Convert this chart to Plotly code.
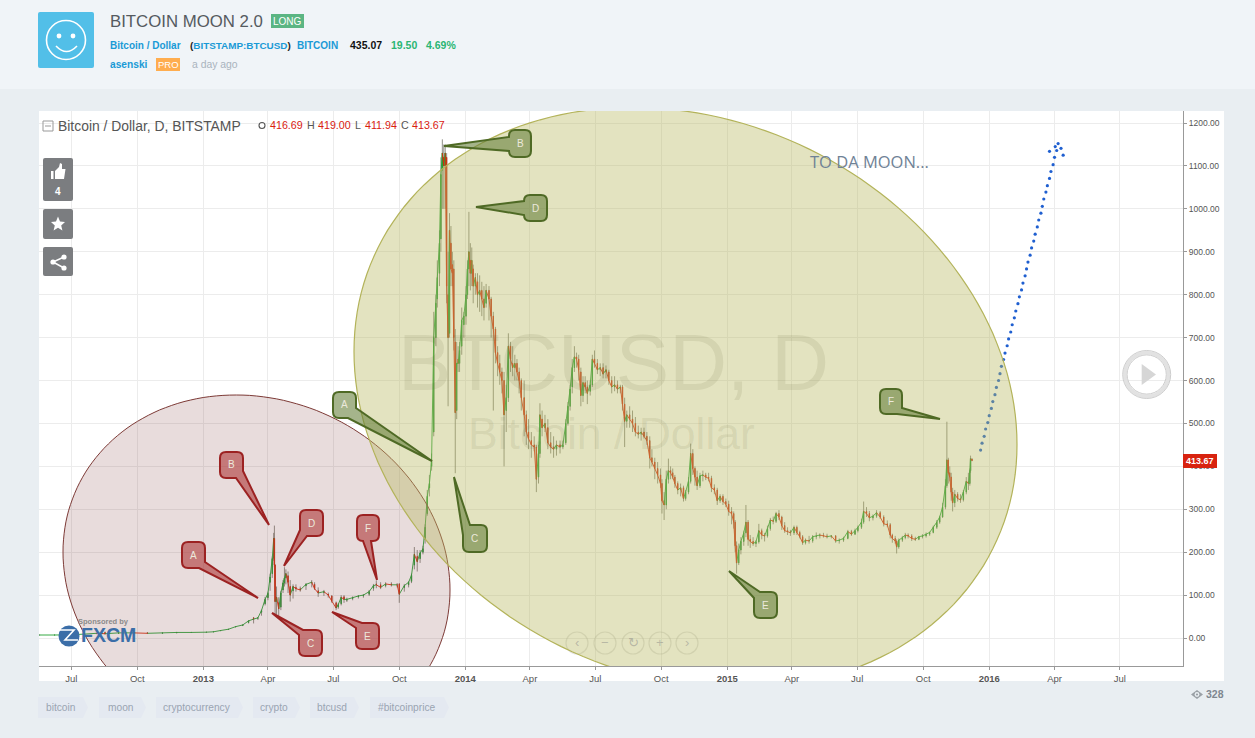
import math
import plotly.graph_objects as go

# ---------- data ----------
dates = (
    ["2012-" + d for d in "05-18 06-08 06-28 07-18 08-05 08-17 09-05 09-25 10-15 11-05 11-25 12-15".split()]
    + ["2013-" + d for d in "01-05 01-15 01-25 02-05 02-15 02-25 03-05 03-12 03-18 03-23 03-28 04-01 04-04 04-07 04-09 04-10 04-11 04-13 04-16 04-19 04-22 04-24 04-26 04-29".split()]
    + ["2013-" + d for d in "05-02 05-06 05-10 05-16 05-24 06-01 06-05 06-10 06-18 06-24 06-29 07-05 07-08 07-12 07-16 07-20 07-28 08-05 08-12 08-20 08-26 08-30 09-05 09-12 09-20 09-28 10-01 10-08 10-14 10-18 10-22 10-26 10-30 11-03 11-06 11-09 11-12 11-15".split()]
    + ["2013-" + d for d in "11-18 11-21 11-23 11-26 11-28 11-30 12-02 12-04 12-06 12-08 12-10 12-12 12-14 12-16 12-18 12-20 12-22 12-24 12-27 12-30".split()]
    + ["2014-" + d for d in "01-02 01-04 01-06 01-08 01-10 01-12 01-15 01-18 01-21 01-24 01-27 01-30".split()]
    + ["2014-" + d for d in "02-03 02-06 02-09 02-12 02-15 02-18 02-21 02-24 02-27 03-02 03-05 03-08 03-11 03-14 03-17 03-20 03-24 03-27 03-30 04-03 04-07 04-10 04-13 04-15 04-18 04-22 04-26 04-30 05-04 05-08 05-13 05-17 05-21 05-24 05-27 05-30 06-02 06-05 06-08 06-11 06-14 06-17 06-20 06-24 06-27 06-30 07-04 07-08 07-12 07-16 07-20 07-24 07-28 08-01 08-05 08-08 08-11 08-14 08-18 08-22 08-26 08-30 09-03 09-07 09-11 09-15 09-18 09-22 09-26 09-30".split()]
    + ["2014-" + d for d in "10-02 10-05 10-08 10-11 10-14 10-17 10-20 10-24 10-28 11-01 11-04 11-08 11-11 11-14 11-17 11-20 11-24 11-28 12-02 12-06 12-10 12-14 12-18 12-22 12-26 12-30".split()]
    + ["2015-" + d for d in "01-03 01-07 01-10 01-12 01-14 01-17 01-20 01-24 01-27 01-30 02-02 02-06 02-10 02-14 02-18 02-22 02-26 03-02 03-06 03-10 03-14 03-18 03-22 03-26 03-30 04-04 04-08 04-12 04-16 04-20 04-25 04-30 05-05 05-10 05-15 05-20 05-26 06-01 06-06 06-12 06-18 06-23 06-28 07-02 07-07 07-10 07-14 07-18 07-23 07-28 08-02 08-07 08-12 08-16 08-19 08-23 08-25 08-28 09-02 09-06 09-10 09-15 09-20 09-25 09-30 10-05 10-10 10-15 10-20 10-24 10-28 11-01 11-03 11-05 11-07 11-09 11-11 11-14 11-18 11-22 11-26 11-30 12-03 12-05 12-06 12-08".split()]
)
opens = [7,7,7,8,10,13,11,12,12,11,12,13,
    13.4,14.2,17,20,26,29,36,47,46,60,80,94,130,150,186,232,170,85,82,72,112,128,140,145,
    120,110,118,115,122,128,125,110,106,102,98,82,72,80,96,88,92,96,98,102,116,126,124,122,126,124,126,118,124,132,170,190,185,200,230,290,350,400,
    480,700,790,850,930,1090,1120,1100,1120,800,710,920,870,860,690,530,650,640,680,730,
    750,800,860,880,850,860,820,830,800,810,790,780,
    810,790,750,720,665,640,620,600,530,560,680,640,630,640,620,600,560,520,480,460,450,445,375,430,510,490,490,455,445,440,450,445,455,500,540,585,630,655,650,620,565,595,585,575,590,650,640,625,630,620,620,600,585,590,580,585,545,505,520,510,500,480,475,480,470,460,420,410,395,380,
    360,320,310,370,390,385,375,360,345,350,325,340,365,430,395,375,355,378,380,375,372,350,345,320,330,318,
    312,295,290,270,215,175,205,225,245,270,230,225,220,224,250,240,238,255,275,272,290,282,262,250,248,245,258,246,236,222,228,226,236,238,240,238,236,238,226,228,232,248,242,250,258,270,295,290,280,284,292,282,266,264,240,232,226,212,228,234,240,238,232,230,236,238,242,246,258,270,282,305,355,415,385,375,340,315,335,325,322,340,365,360,390,416.69]
highs = [7.5,7.5,7.5,9,11,15,12,13,13,12,13,14,
    13.8,14.8,18,21,27,31,41,49,48,66,96,108,150,190,245,262,172,120,95,110,135,165,160,155,
    135,125,125,120,128,135,130,118,112,106,100,85,82,100,100,94,97,100,102,112,126,134,130,130,130,128,128,126,132,150,212,205,205,215,265,345,380,430,
    760,800,880,950,1120,1162,1150,1150,1130,900,990,960,900,880,720,690,680,690,770,760,
    820,880,993,920,910,870,850,850,845,830,820,825,
    820,795,760,725,680,660,630,620,590,710,690,680,660,650,630,605,600,530,510,480,470,450,450,547,530,520,510,480,470,460,460,460,510,550,590,650,680,665,660,630,610,610,600,600,660,670,650,640,640,635,625,610,610,600,590,590,560,530,540,530,515,495,490,490,480,470,440,420,410,395,
    370,340,390,418,400,395,380,365,360,355,345,375,453,440,400,390,385,390,385,385,378,358,350,335,335,325,
    320,305,295,275,225,220,235,250,310,275,240,235,228,266,255,245,262,280,283,294,298,285,270,258,252,262,262,250,240,232,238,240,246,244,245,243,240,240,232,236,252,252,255,262,278,318,305,296,288,298,296,286,274,268,243,238,230,232,238,245,244,242,236,238,242,246,248,262,275,285,315,370,504,420,400,385,350,345,340,335,345,375,385,395,425,419]
lows = [6.5,6.5,6.5,7.5,9.5,8,10,11,11,10,11,13,
    13.1,14,16,19,25,28,34,34,42,52,76,88,110,140,180,165,55,55,50,65,105,120,125,105,
    85,92,108,108,112,118,112,96,98,94,82,65,68,76,82,84,88,92,94,98,110,116,114,118,120,118,82,108,118,128,160,155,175,195,220,285,330,390,
    470,680,770,820,900,1000,1000,1000,780,540,700,820,820,670,384,510,620,620,660,700,
    730,790,820,810,820,780,800,770,760,750,740,770,
    740,700,530,640,610,590,570,400,480,550,620,610,600,600,570,530,470,450,440,420,435,340,360,420,470,480,440,430,420,425,430,440,450,495,530,570,620,630,600,540,550,570,545,565,585,630,615,610,605,605,590,570,575,570,570,530,445,490,490,480,470,465,460,465,450,395,400,370,360,350,
    290,275,300,360,370,370,350,335,330,318,320,335,360,380,355,345,350,365,368,365,340,335,310,315,310,305,
    285,265,255,200,150,170,195,215,235,215,210,215,212,220,230,225,234,250,265,268,275,252,245,240,238,240,240,232,217,218,220,222,230,232,234,232,232,222,220,224,230,238,240,246,254,266,282,272,274,280,278,260,258,232,222,220,197,208,224,230,232,226,226,228,232,234,238,244,254,266,280,300,350,360,365,320,295,305,318,315,318,335,345,355,385,411.94]
closes = [7,7,7.5,9,11,10,12,12,11,12,13,13,
    13.6,14.5,17.5,20.5,26.5,30.5,40,44,47,64,90,104,142,185,232,170,85,95,68,105,128,140,150,130,
    100,120,115,112,125,130,115,105,108,100,86,70,78,95,90,90,94,98,100,108,122,124,118,126,124,124,102,122,130,146,195,178,198,208,258,330,360,415,
    700,780,840,920,1080,1130,1100,1130,820,700,950,860,850,700,525,640,640,670,740,750,
    800,860,900,850,880,820,840,800,810,790,770,810,
    790,750,720,665,640,620,600,520,560,680,650,630,640,620,600,560,520,480,465,450,445,370,430,520,490,500,455,445,440,450,445,450,500,540,580,630,655,650,625,565,595,585,570,590,650,640,625,630,615,625,600,585,590,580,585,545,505,520,510,500,480,475,480,470,460,420,410,395,380,360,
    320,310,370,390,385,375,360,345,350,325,340,365,430,395,375,355,378,380,375,372,350,345,320,330,318,312,
    295,290,270,215,175,205,225,245,270,230,225,220,224,250,240,238,255,275,272,290,282,262,250,248,245,258,246,236,222,228,226,236,238,240,238,236,238,226,228,232,248,242,250,258,270,295,290,280,284,292,282,266,264,240,232,226,212,228,234,240,238,232,230,236,238,242,246,258,270,282,305,355,415,385,375,340,315,335,325,322,340,365,360,390,418,413.67]

proj_dates = ["2015-12-20","2015-12-22","2015-12-25","2015-12-27","2015-12-30","2016-01-01","2016-01-04","2016-01-06","2016-01-09","2016-01-11",
    "2016-01-14","2016-01-16","2016-01-18","2016-01-21","2016-01-23","2016-01-26","2016-01-28","2016-01-31","2016-02-02","2016-02-05",
    "2016-02-07","2016-02-10","2016-02-12","2016-02-15","2016-02-17","2016-02-20","2016-02-22","2016-02-24","2016-02-27","2016-02-29",
    "2016-03-03","2016-03-05","2016-03-08","2016-03-10","2016-03-13","2016-03-15","2016-03-17","2016-03-20","2016-03-22","2016-03-25",
    "2016-03-27","2016-03-30","2016-04-01","2016-04-04","2016-04-06","2016-04-10","2016-04-13","2016-03-25","2016-04-02"]
proj_values = [438,454,470,487,502,518,535,551,567,584,600,616,633,649,664,681,697,713,730,746,762,779,795,811,827,844,860,876,892,909,
    925,941,958,974,990,1006,1023,1039,1054,1071,1087,1103,1120,1136,1152,1141,1125,1134,1145]

x_tick_vals = ["2012-07-01","2012-10-01","2013-01-01","2013-04-01","2013-07-01","2013-10-01","2014-01-01","2014-04-01","2014-07-01","2014-10-01",
    "2015-01-01","2015-04-01","2015-07-01","2015-10-01","2016-01-01","2016-04-01","2016-07-01"]
x_tick_text = ["Jul","Oct","<b>2013</b>","Apr","Jul","Oct","<b>2014</b>","Apr","Jul","Oct","<b>2015</b>","Apr","Jul","Oct","<b>2016</b>","Apr","Jul"]
y_tick_vals = [0,100,200,300,400,500,600,700,800,900,1000,1100,1200]
y_tick_text = ["%.2f" % v for v in y_tick_vals]
tags = ["bitcoin","moon","cryptocurrency","crypto","btcusd","#bitcoinprice"]

# ---------- page geometry ----------
L, R, T, B = 39, 1183, 111, 666
W, H = 1255, 738
SANS = "Liberation Sans"
def X(p): return (p - L) / (R - L)
def Y(p): return (B - p) / (B - T)

shapes, notes = [], []
def rect(x0, y0, x1, y1, fill, line=None, lw=0, layer="below", r=0):
    if r:
        path = (f"M{X(x0+r)},{Y(y0)} L{X(x1-r)},{Y(y0)} Q{X(x1)},{Y(y0)} {X(x1)},{Y(y0+r)} L{X(x1)},{Y(y1-r)} Q{X(x1)},{Y(y1)} {X(x1-r)},{Y(y1)} "
                f"L{X(x0+r)},{Y(y1)} Q{X(x0)},{Y(y1)} {X(x0)},{Y(y1-r)} L{X(x0)},{Y(y0+r)} Q{X(x0)},{Y(y0)} {X(x0+r)},{Y(y0)} Z")
        shapes.append(dict(type="path", xref="paper", yref="paper", path=path, fillcolor=fill, line=dict(width=lw, color=line or fill), layer=layer))
    else:
        shapes.append(dict(type="rect", xref="paper", yref="paper", x0=X(x0), x1=X(x1), y0=Y(y0), y1=Y(y1), fillcolor=fill, line=dict(width=lw, color=line or fill), layer=layer))
def circ(cx, cy, r, fill="rgba(0,0,0,0)", line="rgba(0,0,0,0)", lw=1, layer="above"):
    shapes.append(dict(type="circle", xref="paper", yref="paper", x0=X(cx-r), x1=X(cx+r), y0=Y(cy-r), y1=Y(cy+r), fillcolor=fill, line=dict(color=line, width=lw), layer=layer))
def poly(pts, fill="rgba(0,0,0,0)", line="rgba(0,0,0,0)", lw=1, close=True, layer="above"):
    path = "M" + " L".join(f"{X(a)},{Y(b)}" for a, b in pts) + (" Z" if close else "")
    shapes.append(dict(type="path", xref="paper", yref="paper", path=path, fillcolor=fill, line=dict(color=line, width=lw), layer=layer))
def txt(x, y, s, size, color, anchor="left", font=SANS):
    notes.append(dict(xref="paper", yref="paper", x=X(x), y=Y(y), text=s, showarrow=False, xanchor=anchor, yanchor="middle",
                      font=dict(size=size, color=color, family=font), borderpad=0, borderwidth=0))

def ellipse_path(cx, cy, A, d, E):
    pts = []
    for i in range(180):
        t = 2 * math.pi * i / 180
        pts.append((cx + A * math.cos(t), cy + d * math.cos(t) + E * math.sin(t)))
    return "M" + " L".join(f"{a:.1f},{b:.1f}" for a, b in pts) + " Z"

def callout(x0, y0, x1, y1, tip, b1, b2, r=6):
    w, h = x1 - x0, y1 - y0
    per = 2 * (w + h)
    def s(p):
        if p[1] == y0: return p[0] - x0
        if p[0] == x1: return w + p[1] - y0
        if p[1] == y1: return w + h + x1 - p[0]
        return 2 * w + h + y1 - p[1]
    corners = [(w, (x1, y0), (x1 - r, y0), (x1, y0 + r)), (w + h, (x1, y1), (x1, y1 - r), (x1 - r, y1)),
               (2 * w + h, (x0, y1), (x0 + r, y1), (x0, y1 - r)), (per, (x0, y0), (x0, y0 + r), (x0 + r, y0))]
    start, end = s(b2), s(b1)
    if end <= start: end += per
    seq = sorted([(c[0], c) for c in corners] + [(c[0] + per, c) for c in corners], key=lambda q: q[0])
    path = f"M{tip[0]},{tip[1]} L{b2[0]},{b2[1]}"
    for v, c in seq:
        if start < v < end:
            path += f" L{c[2][0]},{c[2][1]} Q{c[1][0]},{c[1][1]} {c[3][0]},{c[3][1]}"
    path += f" L{b1[0]},{b1[1]} Z"
    return path

# ---------- page furniture ----------
rect(0, 0, W, 89, "#f0f4f8")
rect(39, 111, 1224, 681, "#ffffff")
rect(38, 12, 94, 68, "#52bfe8", r=2)
circ(66, 40, 19.5, line="#ffffff", lw=1.6)
circ(59, 36, 2.4, fill="#ffffff", lw=0)
circ(73, 36, 2.4, fill="#ffffff", lw=0)
shapes.append(dict(type="path", xref="paper", yref="paper", layer="above", line=dict(color="#ffffff", width=1.6),
                   path=f"M{X(56)},{Y(46)} Q{X(66.5)},{Y(57)} {X(77)},{Y(46)}"))
txt(110, 21, "BITCOIN MOON 2.0", 16.8, "#555a60")
rect(271, 14, 304, 28, "#5bb583")
txt(287.5, 21, "LONG", 10, "#ffffff", "center")
txt(110, 45, "<b>Bitcoin / Dollar</b>", 10, "#1a9ad6")
txt(190, 45, "<b><span style='color:#222'>(</span>BITSTAMP:BTCUSD<span style='color:#222'>)</span></b>", 9.9, "#1a9ad6")
txt(297, 45, "<b>BITCOIN</b>", 10, "#1a9ad6")
txt(350, 45, "<b>435.07</b>", 10.5, "#111111")
txt(391, 45, "<b>19.50</b>", 10.5, "#2ab673")
txt(426, 45, "<b>4.69%</b>", 10.5, "#2ab673")
txt(110, 65, "<b>asenski</b>", 10.2, "#1a9ad6")
rect(156, 58, 180, 71, "#ffad4f")
txt(168, 64.5, "PRO", 9.5, "#ffffff", "center")
txt(192, 65, "a day ago", 10.4, "#a9b3bd")

txt(58, 126, "Bitcoin / Dollar, D, BITSTAMP", 13.9, "#555555")
rect(43, 121, 53, 131, "rgba(0,0,0,0)", "#999999", 1, "above")
poly([(45, 126), (51, 126)], line="#999999", close=False)
circ(262, 125.5, 3, line="#555555", lw=1.1)
txt(270, 125.5, "416.69", 10.7, "#d9200f", "left")
txt(306.5, 125.5, "H", 10.7, "#555555")
txt(318, 125.5, "419.00", 10.7, "#d9200f")
txt(355, 125.5, "L", 10.7, "#555555")
txt(365, 125.5, "411.94", 10.7, "#d9200f")
txt(401, 125.5, "C", 10.7, "#555555")
txt(412, 125.5, "413.67", 10.7, "#d9200f")

btn = "#7b7d80"
rect(43, 158, 73, 201, btn, layer="above", r=2)
rect(43, 209, 73, 239, btn, layer="above", r=2)
rect(43, 247, 73, 276, btn, layer="above", r=2)
poly([(51, 171), (53.5, 171), (53.5, 179), (51, 179)], fill="#ffffff", lw=0)
poly([(55, 171), (59, 167), (60, 163), (62, 164), (62, 169), (65.5, 169), (64, 179), (55, 179)], fill="#ffffff", lw=0)
txt(58, 192, "<b>4</b>", 10, "#ffffff", "center")
poly([(58, 216.5), (60, 221.5), (65, 222), (61.2, 225.4), (62.4, 230.5), (58, 227.8), (53.6, 230.5), (54.8, 225.4), (51, 222), (56, 221.5)], fill="#ffffff", lw=0)
poly([(64, 257), (53, 262), (64, 268)], line="#ffffff", lw=1.5, close=False)
circ(64, 257, 2.6, fill="#ffffff", lw=0)
circ(53, 262, 2.6, fill="#ffffff", lw=0)
circ(64, 268, 2.6, fill="#ffffff", lw=0)

# play button and nav buttons
circ(1146.7, 374.5, 21.8, line="#e2e2e2", lw=3.6)
circ(1146.7, 374.5, 24, line="#cdcdcd", lw=1)
circ(1146.7, 374.5, 19.6, line="#cdcdcd", lw=1)
poly([(1141.7, 364), (1156, 374.5), (1141.7, 385)], fill="#d6d6d6", lw=0)
for cx, sym, fnt in zip([577, 605, 633, 660, 687], ["‹", "−", "↻", "+", "›"], [SANS, SANS, "DejaVu Sans", SANS, SANS]):
    circ(cx, 643, 11, line="rgba(150,150,150,0.28)", lw=1.2)
    txt(cx, 642.5, sym, 13, "rgba(130,130,130,0.45)", "center", fnt)

# sponsor mark
txt(78, 621, "<b>Sponsored by</b>", 7.5, "#8a8a8a")
circ(69, 636, 10.5, fill="#3b6ea8", lw=0)
poly([(60, 630), (74, 630), (65, 640), (78, 640)], line="#ffffff", lw=1.6, close=False)
txt(81, 635, "<b>FXCM</b>", 19.5, "#3b6ea8", font="Liberation Sans")

# tag row
for s, x0, x1 in zip(tags, [38, 99, 156, 253, 310, 370], [83, 141, 238, 295, 354, 444]):
    rect(x0, 697, x1, 718, "#e4e9f1")
    poly([(x1, 697), (x1 + 5, 707.5), (x1, 718)], fill="#e4e9f1", lw=0, layer="below")
    txt((x0 + x1) / 2, 707, s, 10.2, "#9aa4b1", "center")

poly([(1191, 694.5), (1197, 690), (1203, 694.5), (1197, 699)], fill="#9aa0a6", lw=0)
circ(1197, 694.5, 2.4, fill="#e9eef2", lw=0)
circ(1197, 694.5, 1.1, fill="#9aa0a6", lw=0)
txt(1206, 694, "<b>328</b>", 10.5, "#7f8790")

# watermark and comment
txt(398, 362, "BTCUSD, D", 80, "rgba(90,90,50,0.11)")
txt(468, 433, "Bitcoin / Dollar", 44.5, "rgba(90,90,50,0.11)")
txt(810, 161, "TO DA MOON...", 16.5, "#6f8296", font="Open Sans")

# price tag
rect(1183, 454, 1217, 468, "#d8230f", layer="above")
txt(1200, 461, "<b>413.67</b>", 9, "#ffffff", "center")

# ---------- drawings clipped to the plot ----------
def clipped(path, fill, line, lw):
    shapes.append(dict(type="path", xref="x2", yref="y2", path=path, fillcolor=fill, line=dict(color=line, width=lw), layer="above"))

clipped(ellipse_path(256.5, 571, 193.5, 19, 175), "rgba(140,80,80,0.2)", "#7d3a36", 1)
clipped(ellipse_path(685.5, 398, 331.5, 46.5, 286.9), "rgba(185,185,97,0.4)", "#b3b35a", 1.2)

red_boxes = {
    "A": (182, 542, 205, 568, (258, 598), (205, 562), (199, 568)),
    "B": (220, 452, 243, 478, (269, 525), (243, 471), (236, 478)),
    "C": (299, 630, 322, 656, (272, 613), (299, 635), (303, 630)),
    "D": (300, 510, 323, 536, (284, 566), (307, 536), (300, 530)),
    "E": (356, 623, 379, 649, (332, 612), (356, 628), (362, 623)),
    "F": (357, 515, 379, 541, (377, 580), (371, 541), (363, 541)),
}
green_boxes = {
    "A": (333, 392, 356, 418, (432, 461), (356, 408), (348, 418)),
    "B": (509, 130, 531, 157, (444, 146), (509, 151), (509, 137)),
    "C": (463, 525, 487, 552, (454, 477), (463, 535), (470, 525)),
    "D": (524, 195, 547, 221, (476, 207), (524, 215), (524, 201)),
    "E": (754, 592, 777, 618, (729, 571), (754, 598), (760, 592)),
    "F": (880, 389, 902, 414, (940, 419), (902, 408), (897, 414)),
}
for boxes, fill, edge in ((red_boxes, "rgba(172,50,50,0.58)", "#9c2222"), (green_boxes, "rgba(100,125,55,0.58)", "#4f6a25")):
    for name, b in boxes.items():
        clipped(callout(*b), fill, edge, 2)
        txt((b[0] + b[2]) / 2, (b[1] + b[3]) / 2, name, 10, "#ece9dc", "center")

# ---------- figure ----------
up_x, up_y, dn_x, dn_y = [], [], [], []
for i in range(1, len(dates)):
    xs, ys = (up_x, up_y) if closes[i] >= closes[i - 1] else (dn_x, dn_y)
    xs += [dates[i - 1], dates[i], None]
    ys += [closes[i - 1], closes[i], None]

fig = go.Figure()
wick = dict(line=dict(color="rgba(110,110,100,0.85)", width=0.9), fillcolor="rgba(110,110,100,0.85)")
fig.add_trace(go.Candlestick(x=dates, open=opens, high=highs, low=lows, close=closes, increasing=wick, decreasing=wick,
                             whiskerwidth=0, showlegend=False, hoverinfo="skip"))
fig.add_trace(go.Scatter(x=up_x, y=up_y, mode="lines", line=dict(color="#20a030", width=0.9), showlegend=False, hoverinfo="skip"))
fig.add_trace(go.Scatter(x=dn_x, y=dn_y, mode="lines", line=dict(color="#d82a0a", width=0.9), showlegend=False, hoverinfo="skip"))
fig.add_trace(go.Candlestick(x=dates, open=opens, close=closes,
                             high=[max(a, b) for a, b in zip(opens, closes)], low=[min(a, b) for a, b in zip(opens, closes)],
                             increasing=dict(line=dict(color="#20a030", width=0.7), fillcolor="#20a030"),
                             decreasing=dict(line=dict(color="#d82a0a", width=0.7), fillcolor="#d82a0a"),
                             whiskerwidth=0, showlegend=False))
fig.add_trace(go.Scatter(x=proj_dates, y=proj_values, mode="markers", marker=dict(size=3.2, color="#1f5fd0"), showlegend=False))
# empty trace that brings the helper subplot into being, so the drawings above are clipped to the plot
fig.add_trace(go.Scatter(x=[L], y=[B], xaxis="x2", yaxis="y2", mode="markers", marker=dict(opacity=0), showlegend=False, hoverinfo="skip"))

fig.update_layout(
    width=W, height=H, margin=dict(l=L, r=W - R, t=T, b=H - B, autoexpand=False),
    paper_bgcolor="#e9eef2", plot_bgcolor="rgba(0,0,0,0)", showlegend=False, shapes=shapes, annotations=notes,
    font=dict(family=SANS, size=9.5, color="#555555"),
    xaxis=dict(type="date", range=["2012-05-17", "2016-09-27"], rangeslider=dict(visible=False), tickmode="array",
               tickvals=x_tick_vals, ticktext=x_tick_text, showgrid=True, gridcolor="#ececec", gridwidth=1, ticks="outside", ticklen=3,
               tickcolor="#999999", showline=True, linecolor="#999999", linewidth=1.2, zeroline=False, tickfont=dict(size=9.5, color="#555555")),
    yaxis=dict(range=[-65.2, 1228], side="right", tickmode="array", tickvals=y_tick_vals, ticktext=y_tick_text, showgrid=True,
               gridcolor="#ececec", gridwidth=1, ticks="outside", ticklen=3, tickcolor="#999999", showline=True, linecolor="#999999", linewidth=1.2,
               zeroline=False, tickfont=dict(size=8.5, color="#555555")),
    xaxis2=dict(range=[L, R], overlaying="x", visible=False, fixedrange=True),
    yaxis2=dict(range=[B, T], overlaying="y", visible=False, fixedrange=True),
)
fig.write_html("out.html", config=dict(displayModeBar=False),
               post_script="document.body.style.margin='0';document.body.style.overflow='hidden';")
